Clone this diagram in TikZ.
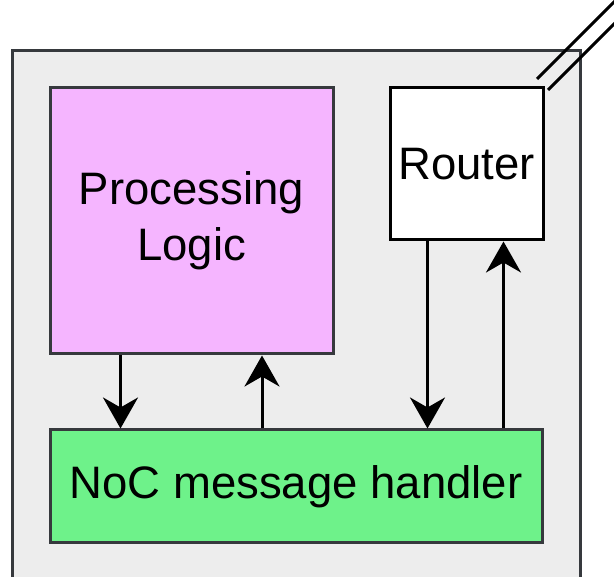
\documentclass[tikz,border=0pt]{standalone}
\usepackage{fontspec}
\setmainfont{Liberation Sans}
\usetikzlibrary{arrows.meta}
\definecolor{edgegray}{HTML}{36393D}
\definecolor{tilefill}{HTML}{EDEDED}
\definecolor{logicpink}{HTML}{F5B5FF}
\definecolor{handlergreen}{HTML}{6EF28A}
\tikzset{
  blockbox/.style={draw=edgegray, line width=3pt, rectangle, align=center,
    font=\fontsize{45.5}{56}\selectfont, inner sep=0pt},
  flow/.style={line width=3pt, draw=black,
    -{Stealth[length=31pt, width=35pt, inset=10pt]}},
  linkline/.style={line width=3pt, draw=black}
}
\begin{document}
\begin{tikzpicture}[x=1pt, y=-1pt]
  \useasboundingbox (0,0) rectangle (614,577);
  \clip (0,0) rectangle (614,577);
  % tile
  \draw[draw=edgegray, fill=tilefill, line width=3pt] (12,51) rectangle (580,620);
  % blocks
  \node[blockbox, fill=logicpink, minimum width=283pt, minimum height=266pt]
    (logic) at (191.5,221) {Processing\\Logic};
  \node[blockbox, draw=black, fill=white, minimum width=153pt, minimum height=152pt]
    (router) at (466.5,164) {Router};
  \node[blockbox, fill=handlergreen, minimum width=492pt, minimum height=113pt]
    (noc) at (296,486.5) {NoC message handler};
  % connections between blocks
  \draw[flow] ([xshift=72pt]logic.south west) -- ([xshift=72pt]noc.north west);
  \draw[flow] ([xshift=213.5pt]noc.north west) -- ([xshift=213.5pt]logic.south west);
  \draw[flow] ([xshift=39pt]router.south west) -- ([xshift=379pt]noc.north west);
  \draw[flow] ([xshift=455pt]noc.north west) -- ([xshift=115pt]router.south west);
  % outgoing link from the router
  \coordinate (linkA) at ([shift={(-7.5,-7.5)}]router.north east);
  \coordinate (linkB) at ([shift={(3.5,3.5)}]router.north east);
  \draw[linkline] (linkA) -- ++(120,-120);
  \draw[linkline] (linkB) -- ++(120,-120);
\end{tikzpicture}
\end{document}
